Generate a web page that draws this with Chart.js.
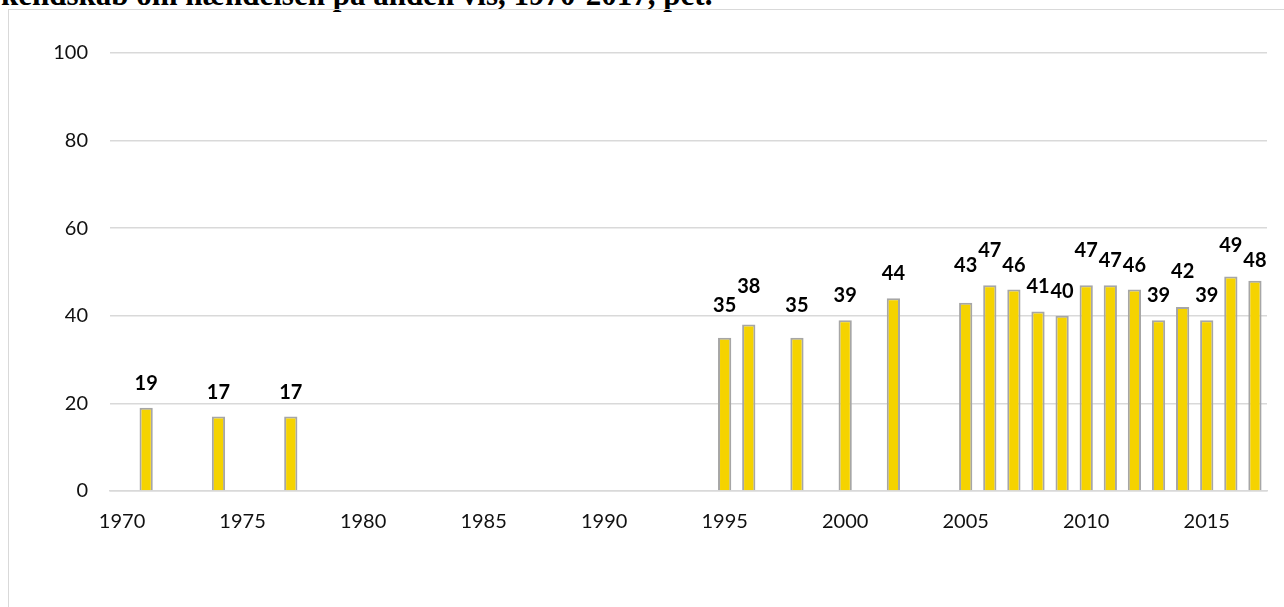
<!DOCTYPE html>
<html>
<head>
<meta charset="utf-8">
<script src="https://cdn.jsdelivr.net/npm/chart.js@4.4.1/dist/chart.umd.min.js"></script>
<style>
    html, body { margin: 0; padding: 0; background: #fff; overflow: hidden; }
    #page { position: relative; width: 1284px; height: 607px; overflow: hidden; }
    #title {
        position: absolute; left: 1px; top: -23px; white-space: nowrap;
        font: bold 31px "Liberation Serif", "Times New Roman", serif; color: #000;
    }
    #frame {
        position: absolute; left: 8px; top: 9px; width: 1300px; height: 620px;
        border: 1.5px solid #d9d9d9;
    }
    #wrap { position: absolute; left: 0; top: 0; width: 1284px; height: 607px; }
</style>
</head>
<body>
<div id="page">
    <div id="title">kendskab om hændelsen på anden vis, 1970-2017, pct.</div>
    <div id="frame"></div>
    <div id="wrap"><canvas id="barChart"></canvas></div>
</div>
<script>
// every year on the axis
const years = ["1970", "1971", "1972", "1973", "1974", "1975", "1976", "1977", "1978", "1979",
    "1980", "1981", "1982", "1983", "1984", "1985", "1986", "1987", "1988", "1989",
    "1990", "1991", "1992", "1993", "1994", "1995", "1996", "1997", "1998", "1999",
    "2000", "2001", "2002", "2003", "2004", "2005", "2006", "2007", "2008", "2009",
    "2010", "2011", "2012", "2013", "2014", "2015", "2016", "2017"];

// years with a survey and their value (pct.)
const surveyYears = ["1971", "1974", "1977", "1995", "1996", "1998", "2000", "2002",
    "2005", "2006", "2007", "2008", "2009", "2010", "2011", "2012", "2013", "2014",
    "2015", "2016", "2017"];
const surveyValues = [19, 17, 17, 35, 38, 35, 39, 44,
    43, 47, 46, 41, 40, 47, 47, 46, 39, 42,
    39, 49, 48];

const xTickLabels = ["1970", "1975", "1980", "1985", "1990", "1995", "2000", "2005", "2010", "2015"];
const yTicks = [0, 20, 40, 60, 80, 100];

// extra lift (px) of some value labels, as placed in the original
const labelLift = { "1995": 8, "1996": 14, "1998": 8, "2005": 13, "2006": 10, "2010": 10, "2014": 11, "2016": 6, "2017": -4 };

const values = years.map(y => {
    const i = surveyYears.indexOf(y);
    return i >= 0 ? surveyValues[i] : null;
});

const valueLabels = {
    id: "valueLabels",
    afterDatasetsDraw(chart) {
        const ctx = chart.ctx;
        const meta = chart.getDatasetMeta(0);
        ctx.save();
        ctx.font = "bold 20px Lato, 'Open Sans', sans-serif";
        ctx.fillStyle = "#000";
        ctx.textAlign = "center";
        ctx.textBaseline = "alphabetic";
        meta.data.forEach((bar, i) => {
            const v = values[i];
            if (v === null) return;
            const lift = labelLift[years[i]] || 0;
            ctx.fillText(String(v), bar.x, bar.y - 18 - lift);
        });
        ctx.restore();
    }
};

const barCtx = document.getElementById("barChart").getContext("2d");

window.barChartInstance = new Chart(barCtx, {
    type: "bar",
    data: {
        labels: years,
        datasets: [{
            data: values,
            backgroundColor: "#f5d300",
            borderColor: "#a6a6a6",
            borderWidth: 2,
            categoryPercentage: 1,
            barPercentage: 0.55
        }]
    },
    plugins: [valueLabels],
    options: {
        responsive: true,
        maintainAspectRatio: false,
        animation: false,
        layout: { padding: { left: 0, right: 17, top: 53, bottom: 0 } },
        plugins: {
            legend: { display: false },
            tooltip: { enabled: false }
        },
        scales: {
            x: {
                grid: { display: false, drawTicks: false },
                border: { display: true, color: "#d9d9d9", width: 1.5 },
                ticks: {
                    autoSkip: false,
                    maxRotation: 0,
                    padding: 19,
                    color: "#111",
                    font: { family: "Lato, 'Open Sans', sans-serif", size: 20 },
                    callback: function (val) {
                        const lab = this.getLabelForValue(val);
                        return xTickLabels.includes(lab) ? lab : "";
                    }
                },
                afterFit: s => { s.height = 116; }
            },
            y: {
                min: 0,
                max: 100,
                afterBuildTicks: s => { s.ticks = yTicks.map(v => ({ value: v })); },
                grid: { color: "#d9d9d9", lineWidth: 1.5, drawTicks: false },
                border: { display: false },
                ticks: {
                    padding: 22,
                    color: "#111",
                    font: { family: "Lato, 'Open Sans', sans-serif", size: 20 }
                },
                afterFit: s => { s.width = 110; }
            }
        }
    }
});
</script>
</body>
</html>
